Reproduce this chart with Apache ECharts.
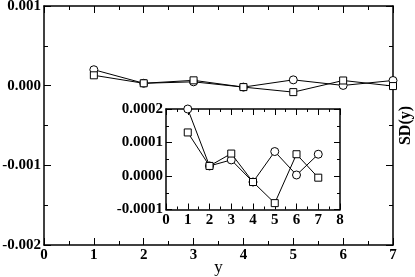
<!DOCTYPE html>
<html>
<head>
<meta charset="utf-8">
<script src="https://cdn.jsdelivr.net/npm/echarts@6/dist/echarts.min.js"></script>
<style>html,body{margin:0;padding:0;background:#fff;}#c{width:415px;height:277px;}</style>
</head>
<body>
<div id="c"></div>
<script>
var xValues = [1, 2, 3, 4, 5, 6, 7];
var circleSeries = [0.00020, 0.000030, 0.000048, -0.000018, 0.000073, 0.000003, 0.000065];
var squareSeries = [0.00013, 0.000030, 0.000067, -0.000018, -0.000081, 0.000065, -0.000005];
var mainYTicks = { min: -0.002, max: 0.001, interval: 0.001 };
var mainXTicks = { min: 0, max: 7, interval: 1 };
var insetYTicks = { min: -0.0001, max: 0.0002, interval: 0.0001 };
var insetXTicks = { min: 0, max: 8, interval: 1 };

var FONT = 'Liberation Serif';
var lab = { fontFamily: FONT, fontWeight: 'bold', fontSize: 15, color: '#000' };
var lineStyleAxis = { color: '#000', width: 1.5 };

function pairs(ys) { return xValues.map(function (x, i) { return [x, ys[i]]; }); }

function xAx(grid, t, pos, showLabel, extra) {
  var a = {
    type: 'value', gridIndex: grid, position: pos, min: t.min, max: t.max, interval: t.interval,
    axisLine: { show: true, onZero: false, lineStyle: lineStyleAxis },
    axisTick: { show: true, inside: true, length: grid === 0 ? 7 : 6, lineStyle: { color: '#000', width: 1 } },
    minorTick: { show: true, splitNumber: 2, length: grid === 0 ? 4 : 3, lineStyle: { color: '#000', width: 1 } },
    splitLine: { show: false },
    axisLabel: Object.assign({ show: showLabel, margin: 3 }, lab)
  };
  return Object.assign(a, extra || {});
}

var option = {
  animation: false,
  backgroundColor: '#fff',
  grid: [
    { left: 44, right: 22, top: 6, bottom: 32, outerBoundsMode: 'none', containLabel: false },
    { left: 166, width: 174, top: 109, height: 100.5, backgroundColor: '#fff', show: true, borderWidth: 0, outerBoundsMode: 'none', containLabel: false }
  ],
  xAxis: [
    xAx(0, mainXTicks, 'bottom', true, {
      name: 'y', nameLocation: 'middle', nameGap: 14, nameMoveOverlap: false,
      nameTextStyle: { fontFamily: FONT, fontSize: 17, color: '#000' }
    }),
    xAx(0, mainXTicks, 'top', false),
    xAx(1, insetXTicks, 'bottom', true),
    xAx(1, insetXTicks, 'top', false)
  ],
  yAxis: [
    xAx(0, mainYTicks, 'left', true, { axisLabel: Object.assign({ show: true, margin: 3, formatter: function (v) { return v.toFixed(3); } }, lab) }),
    xAx(0, mainYTicks, 'right', false, {
      name: 'SD(y)', nameLocation: 'middle', nameGap: 5, nameRotate: 90, nameMoveOverlap: false,
      nameTextStyle: { fontFamily: FONT, fontWeight: 'bold', fontSize: 16, color: '#000' }
    }),
    xAx(1, insetYTicks, 'left', true, { axisLabel: Object.assign({ show: true, margin: 3, formatter: function (v) { return v.toFixed(4); } }, lab) }),
    xAx(1, insetYTicks, 'right', false)
  ],
  series: [
    { type: 'line', xAxisIndex: 0, yAxisIndex: 0, data: pairs(circleSeries), symbol: 'circle', symbolSize: 8,
      lineStyle: { color: '#000', width: 1 }, itemStyle: { color: '#fff', borderColor: '#000', borderWidth: 1 }, z: 3 },
    { type: 'line', xAxisIndex: 0, yAxisIndex: 0, data: pairs(squareSeries), symbol: 'rect', symbolSize: 7,
      lineStyle: { color: '#000', width: 1 }, itemStyle: { color: '#fff', borderColor: '#000', borderWidth: 1 }, z: 3 },
    { type: 'line', xAxisIndex: 2, yAxisIndex: 2, data: pairs(circleSeries), symbol: 'circle', symbolSize: 8,
      lineStyle: { color: '#000', width: 1 }, itemStyle: { color: '#fff', borderColor: '#000', borderWidth: 1 }, z: 5 },
    { type: 'line', xAxisIndex: 2, yAxisIndex: 2, data: pairs(squareSeries), symbol: 'rect', symbolSize: 7,
      lineStyle: { color: '#000', width: 1 }, itemStyle: { color: '#fff', borderColor: '#000', borderWidth: 1 }, z: 5 }
  ]
};
var chart = echarts.init(document.getElementById('c'), null, { renderer: 'canvas' });
chart.setOption(option);
</script>
</body>
</html>
